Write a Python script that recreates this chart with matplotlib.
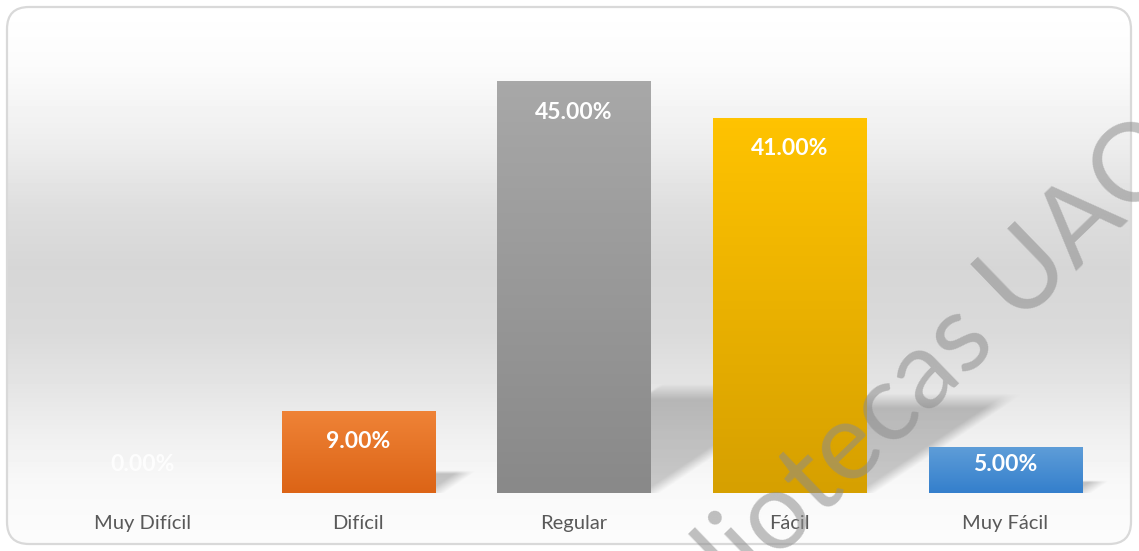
import numpy as np
import matplotlib
matplotlib.use('Agg')
import matplotlib.pyplot as plt
from matplotlib.patches import FancyBboxPatch
from matplotlib.colors import to_rgb

# Chart data
categories = ['Muy Difícil', 'Difícil', 'Regular', 'Fácil', 'Muy Fácil']
percentages = [0.0, 9.0, 45.0, 41.0, 5.0]
labels = ['0.00%', '9.00%', '45.00%', '41.00%', '5.00%']
top_colors = ['#5B9BD5', '#EF8337', '#A8A8A8', '#FFC300', '#5E9DD8']
bottom_colors = ['#2E75B6', '#DC6416', '#898989', '#D6A000', '#347FCC']

W, H = 1139, 551
fig = plt.figure(figsize=(W / 100, H / 100), dpi=100)

# background panel: rounded box with vertical gray gradient
bg = fig.add_axes([0, 0, 1, 1])
bg.set_xlim(0, W)
bg.set_ylim(H, 0)
bg.axis('off')
stops_y = [6, 67, 150, 207, 267, 333, 383, 433, 483, 545]
stops_v = [255, 251, 236, 222, 214, 218, 228, 239, 248, 252]
ys = np.arange(H)
shade = np.interp(ys, stops_y, stops_v) / 255.0
grad = np.repeat(shade[:, None], 2, axis=1)
box = FancyBboxPatch((7, 7), W - 15, H - 14, boxstyle='round,pad=0,rounding_size=22',
                     facecolor='none', edgecolor='#d9d9d9', linewidth=1.6, zorder=3)
bg.add_patch(box)
img = bg.imshow(grad, cmap='gray', vmin=0, vmax=1, extent=[0, W, H, 0], aspect='auto', zorder=1)
img.set_clip_path(box)

# plot area
ax = fig.add_axes([35 / W, 58 / H, 1078 / W, 457.75 / H])
ax.patch.set_alpha(0)
ax.set_xlim(-0.5, 4.5)
ax.set_ylim(0, 50)
for s in ax.spines.values():
    s.set_visible(False)
ax.set_yticks([])
ax.set_xticks(range(len(categories)))
ax.set_xticklabels(categories, fontsize=14.5, color='#595959', family=['Lato', 'DejaVu Sans'])
ax.tick_params(axis='x', length=0, pad=16)

bar_w = 0.71
bars = ax.bar(range(len(categories)), percentages, width=bar_w, facecolor='none',
              edgecolor='none', zorder=3)

# px per unit to keep shadow skew in screen proportion
px_x = 1078 / 5.0
px_y = 457.75 / 50.0

for i, (rect, v) in enumerate(zip(bars, percentages)):
    if v <= 0:
        continue
    x0 = rect.get_x()
    x1 = x0 + rect.get_width()
    # soft perspective shadow leaning up-right
    sh = 0.245 * v
    dx = 1.5 * sh * px_y / px_x
    gx = np.linspace(x0 - 0.05, x1 + dx + 0.15, 400)
    gy = np.linspace(0, sh * 1.2, 160)
    XX, YY = np.meshgrid(gx, gy)
    t = YY / sh
    s = (XX - x0 - t * dx) / (x1 - x0)
    soft = 0.12
    edge = np.clip(s / 0.03, 0, 1) * np.clip((1 - s) / soft + 0.5, 0, 1)
    top = np.clip((1.08 - t) / 0.16, 0, 1)
    alpha = 0.3 * edge * top * (0.85 + 0.15 * t)
    rgba = np.zeros(XX.shape + (4,))
    rgba[..., :3] = 0.25
    rgba[..., 3] = alpha
    ax.imshow(rgba, extent=[gx[0], gx[-1], 0, gy[-1]], origin='lower', aspect='auto',
              zorder=2, interpolation='bilinear')

    # vertical gradient fill clipped to the bar
    c_top = np.array(to_rgb(top_colors[i]))
    c_bot = np.array(to_rgb(bottom_colors[i]))
    f = np.linspace(0, 1, 100)[:, None]
    col = c_bot * (1 - f) + c_top * f
    bimg = ax.imshow(col[:, None, :].repeat(2, axis=1), extent=[x0, x1, 0, v], origin='lower',
                     aspect='auto', zorder=3)
    bimg.set_clip_path(rect)

ax.set_xlim(-0.5, 4.5)
ax.set_ylim(0, 50)

for i, v in enumerate(percentages):
    ly = v - 3.4 if v > 6 else 3.1
    ax.text(i, ly, labels[i], ha='center', va='center', fontsize=16.5, fontweight='bold',
            color='white', family=['Lato', 'DejaVu Sans'], zorder=5,
            alpha=0.85 if v == 0 else 1.0)

# scan watermark
fig.text(887 / W, 1 - 410 / H, 'Bibliotecas UAQ', rotation=44, ha='center', va='center',
         fontsize=78, color='#8c8c8c', alpha=0.55, family=['Lato', 'DejaVu Sans'],
         rotation_mode='anchor', zorder=10)

fig.savefig('out.png', dpi=100)
